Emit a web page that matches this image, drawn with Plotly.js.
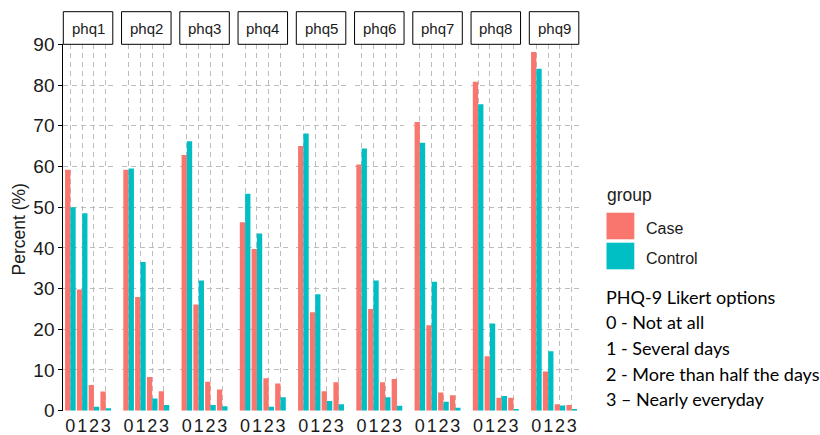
<!DOCTYPE html>
<html>
<head>
<meta charset="utf-8">
<script src="https://cdn.plot.ly/plotly-3.0.1.min.js"></script>
<style>html,body{margin:0;padding:0;background:#fff;}#chart{width:820px;height:435px;}</style>
</head>
<body>
<div id="chart"></div>
<script>
// ---- data ----
var items = ['phq1','phq2','phq3','phq4','phq5','phq6','phq7','phq8','phq9'];
var likert = [0, 1, 2, 3];
var likertLabels = ['0','1','2','3'];
var groups = ['Case','Control'];
var caseVals = [
  [59.2, 29.8, 6.3, 4.7],
  [59.2, 27.9, 8.3, 4.8],
  [62.8, 26.1, 7.1, 5.2],
  [46.3, 39.7, 8.0, 6.7],
  [65.0, 24.2, 4.8, 7.0],
  [60.5, 25.0, 7.0, 7.8],
  [70.9, 21.0, 4.5, 3.8],
  [80.8, 13.4, 3.2, 3.2],
  [88.1, 9.6, 1.6, 1.4]
];
var controlVals = [
  [50.0, 48.5, 1.0, 0.6],
  [59.5, 36.5, 3.0, 1.4],
  [66.2, 32.0, 1.4, 1.1],
  [53.3, 43.5, 1.0, 3.3],
  [68.1, 28.6, 2.4, 1.6],
  [64.4, 32.0, 3.3, 1.2],
  [65.8, 31.7, 2.2, 0.7],
  [75.3, 21.4, 3.6, 0.4],
  [84.0, 14.6, 1.3, 0.4]
];
var yTicks = [0,10,20,30,40,50,60,70,80,90];
var likertText = ['PHQ-9 Likert options','0 - Not at all','1 - Several days','2 - More than half the days','3 \u2013 Nearly everyday'];

// ---- styling / layout ----
var W = 820, H = 435;
var colors = ['#F8766D', '#00BFC4'];
function px(x){ return x / W; }
function py(y){ return 1 - y / H; }
var panelLeft0 = 63.3, panelStep = 58.25, panelW = 49.5;
var yTop = 44.3, yBottom = 410.7;
var gridCol = '#bdbdbd';
var gridDash = '5px,4px';

var traces = [];
var layout = {
  width: W, height: H,
  margin: {l:0, r:0, t:0, b:0},
  paper_bgcolor: '#fff', plot_bgcolor: '#fff',
  showlegend: false,
  barmode: 'group', bargap: 0.1, bargroupgap: 0,
  font: {family: 'Liberation Sans, Arial, sans-serif', color: '#222'},
  shapes: [], annotations: []
};

items.forEach(function(name, i){
  var n = i + 1;
  var xa = 'x' + (n === 1 ? '' : n), ya = 'y' + (n === 1 ? '' : n);
  var xk = 'xaxis' + (n === 1 ? '' : n), yk = 'yaxis' + (n === 1 ? '' : n);
  var series = [caseVals[i], controlVals[i]];
  groups.forEach(function(g, gi){
    traces.push({
      type: 'bar', x: likert, y: series[gi], name: g,
      xaxis: xa, yaxis: ya,
      marker: {color: colors[gi], line: {width: 0}},
      hoverinfo: 'x+y+name'
    });
  });
  var l = panelLeft0 + i * panelStep;
  layout[xk] = {
    domain: [px(l), px(l + panelW)], anchor: ya,
    range: [-0.6, 3.6], tickvals: likert, ticktext: likertLabels, tickangle: 0,
    showgrid: true, gridcolor: gridCol, griddash: gridDash, gridwidth: 1,
    zeroline: false, showline: false, ticks: '', ticklabelstandoff: 2,
    tickfont: {size: 18, color: '#1a1a1a'}, fixedrange: true
  };
  layout[yk] = {
    domain: [py(yBottom), py(yTop)], anchor: xa,
    range: [0, 90], tickvals: yTicks,
    showgrid: true, gridcolor: gridCol, griddash: gridDash, gridwidth: 1,
    zeroline: false, fixedrange: true,
    showticklabels: i === 0, showline: i === 0, linecolor: '#000', linewidth: 1,
    ticks: i === 0 ? 'outside' : '', ticklen: 4, tickcolor: '#000',
    tickfont: {size: 19, color: '#1a1a1a'}
  };
  // strip box
  layout.shapes.push({type: 'rect', xref: 'paper', yref: 'paper',
    x0: px(l), x1: px(l + panelW), y0: py(yTop), y1: py(11.7),
    line: {color: '#000', width: 1}, fillcolor: '#fff', layer: 'above'});
  layout.annotations.push({xref: 'paper', yref: 'paper', x: px(l + panelW / 2), y: py(28),
    text: name, showarrow: false, xanchor: 'center', yanchor: 'middle',
    font: {size: 15, color: '#1a1a1a'}});
});

// y-axis title
layout.annotations.push({xref: 'paper', yref: 'paper', x: px(18.5), y: py(230),
  text: 'Percent (%)', showarrow: false, textangle: -90, xanchor: 'center', yanchor: 'middle',
  font: {size: 17.5, color: '#1a1a1a'}});

// legend
layout.annotations.push({xref: 'paper', yref: 'paper', x: px(605), y: py(195),
  text: 'group', showarrow: false, xanchor: 'left', yanchor: 'middle',
  font: {size: 17.5, color: '#1a1a1a'}});
groups.forEach(function(g, gi){
  var top = 212.7 + gi * 30;
  layout.shapes.push({type: 'rect', xref: 'paper', yref: 'paper',
    x0: px(606.5), x1: px(634.3), y0: py(top + 26.6), y1: py(top),
    line: {width: 0}, fillcolor: colors[gi]});
  layout.annotations.push({xref: 'paper', yref: 'paper', x: px(644), y: py(top + 15.6),
    text: g, showarrow: false, xanchor: 'left', yanchor: 'middle',
    font: {size: 16, color: '#1a1a1a'}});
});

// likert note
likertText.forEach(function(t, k){
  layout.annotations.push({xref: 'paper', yref: 'paper', x: px(604), y: py(296.7 + k * 25.6),
    text: t, showarrow: false, xanchor: 'left', yanchor: 'middle',
    font: {family: 'Lato, sans-serif', size: 18, color: '#000'}});
});

Plotly.newPlot('chart', traces, layout, {displayModeBar: false, staticPlot: true});
</script>
</body>
</html>
